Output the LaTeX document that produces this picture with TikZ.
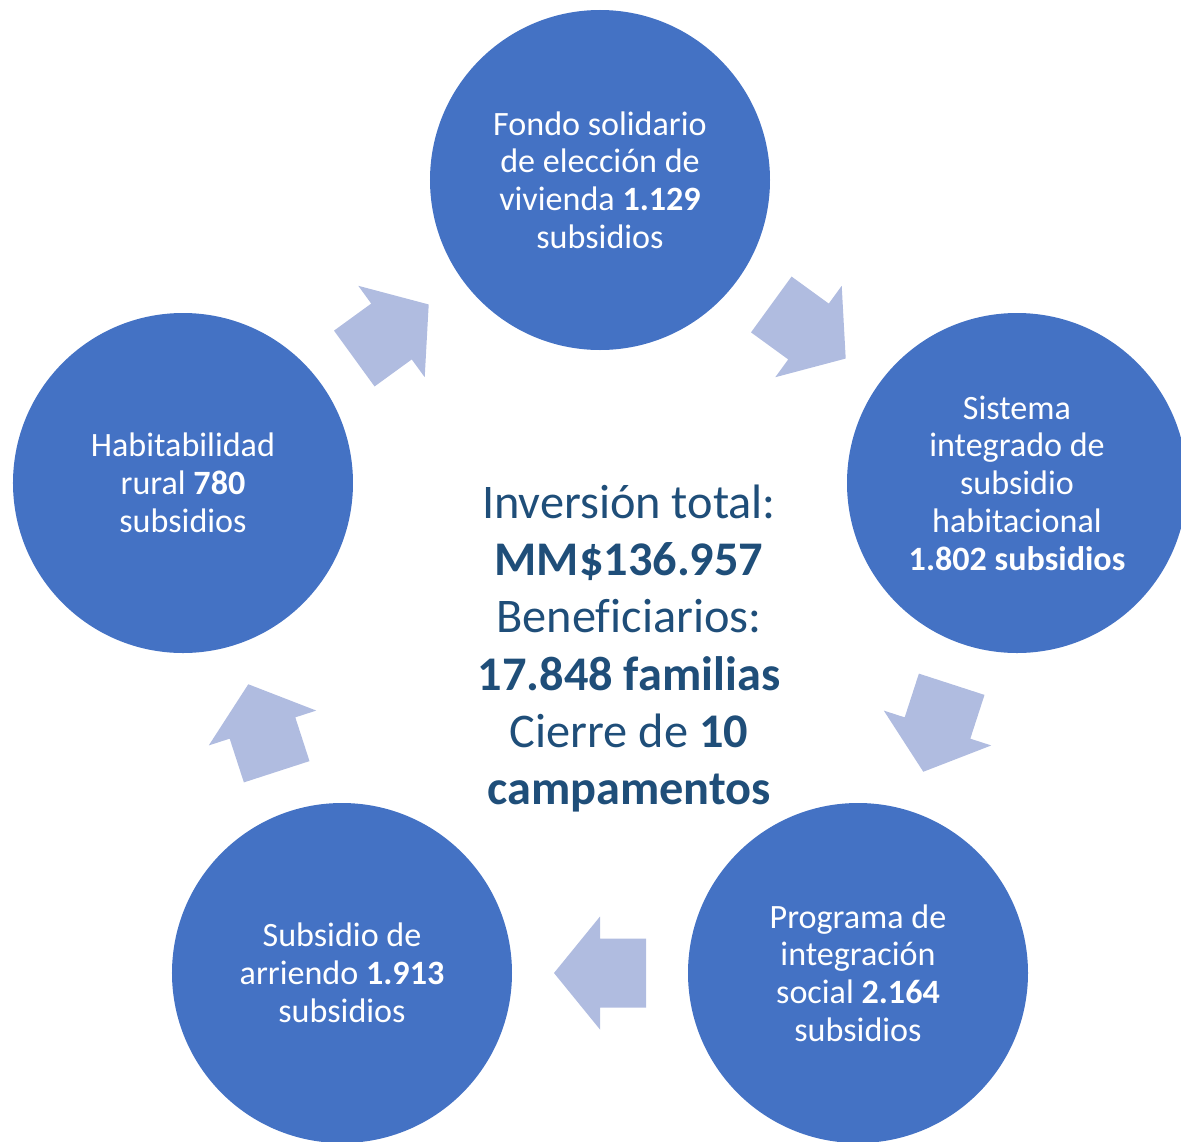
\documentclass[tikz,border=0pt]{standalone}
\usepackage{fontspec}
\setmainfont{Carlito}[Ligatures=NoCommon]
\usepackage{xcolor}
\usepackage{tikz}
\definecolor{circblue}{RGB}{68, 114, 196}
\definecolor{arrowblue}{RGB}{176, 188, 224}
\definecolor{textblue}{RGB}{31, 78, 121}
\usetikzlibrary{calc}

\tikzset{
	bubble/.style = {circle, fill = circblue, minimum size = 6.8cm, inner sep = 0pt, align = center, text = white, font = \fontsize{19.4}{21.5}\selectfont},
	flecha/.pic = {\fill[arrowblue] (-0.92,-0.69) -- (0,-0.69) -- (0,-1.13) -- (0.92,0) -- (0,1.13) -- (0,0.69) -- (-0.92,0.69) -- cycle;}
}

\begin{document}
\begin{tikzpicture}
	\useasboundingbox (-12,-10.46) rectangle (11.62,12.36);
	
	\node[bubble, yshift = 8.76cm] (n1) {Fondo solidario\\de elección de\\vivienda \textbf{1.129}\\subsidios};
	\node[bubble, xshift = 8.34cm, yshift = 2.7cm] (n2) {Sistema\\integrado de\\subsidio\\habitacional\\\textbf{1.802 subsidios}};
	\node[bubble, xshift = 5.16cm, yshift = -7.1cm] (n3) {Programa de\\integración\\social \textbf{2.164}\\subsidios};
	\node[bubble, xshift = -5.16cm, yshift = -7.1cm] (n4) {Subsidio de\\arriendo \textbf{1.913}\\subsidios};
	\node[bubble, xshift = -8.34cm, yshift = 2.7cm] (n5) {Habitabilidad\\rural \textbf{780}\\subsidios};
	
	\node[align = center, text = textblue, font = \fontsize{27.5}{32.6}\selectfont, xshift = 0.58cm, yshift = -0.61cm] (total) {Inversión total:\\\textbf{MM\$136.957}\\Beneficiarios:\\\textbf{17.848 familias}\\Cierre de \textbf{10}\\\textbf{campamentos}};
	
	% flechas del ciclo
	\foreach \a/\b in {n1/n2, n2/n3, n3/n4, n4/n5, n5/n1}
		\path let \p1 = ($(\b)-(\a)$), \n1 = {atan2(\y1,\x1)} in ($(\a)!0.5!(\b)$) pic[rotate = \n1] {flecha};
	
\end{tikzpicture}
\end{document}
